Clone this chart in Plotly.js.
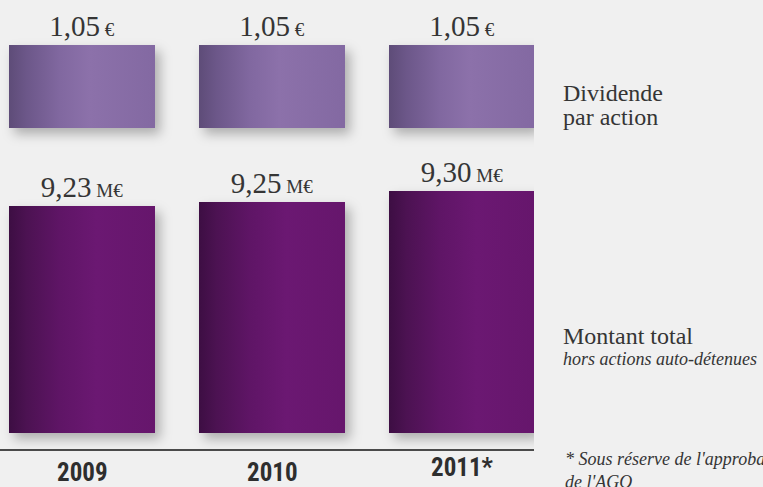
<!DOCTYPE html>
<html>
<head>
<meta charset="utf-8">
<script src="https://cdn.plot.ly/plotly-3.0.1.min.js"></script>
<style>
  html, body { margin: 0; padding: 0; background: #f0f0f0; }
  #chart { width: 763px; height: 487px; }
</style>
</head>
<body>
<div id="chart"></div>
<script>
// ---- data ----
const years = ['2009', '2010', '2011*'];
const dividendPerShare = [1.05, 1.05, 1.05];
const totalAmount = [9.23, 9.25, 9.30];
const dividendUnit = '€';
const totalUnit = 'M€';
const rowLabelTop = ['Dividende', 'par action'];
const rowLabelBottom = ['Montant total', 'hors actions auto-détenues'];
const footnote = ['* Sous réserve de l\'approbation', 'de l\'AGO'];

// ---- layout geometry ----
const W = 763, H = 487;
const PLOT_W = 534, PLOT_H = 449;
const TOTAL_BASE = 8.17;
const fmt = v => v.toFixed(2).replace('.', ',');
const px = p => p / PLOT_W;
const py = p => (PLOT_H - p) / PLOT_H;

const serif = 'Liberation Serif, Times New Roman, serif';
const narrow = 'Liberation Sans Narrow, Arial Narrow, Roboto Condensed, Liberation Sans, sans-serif';
const textCol = '#353535';

const traces = [
  {
    type: 'bar', name: 'total', x: years,
    y: totalAmount.map(v => v - TOTAL_BASE), base: TOTAL_BASE,
    yaxis: 'y', width: 0.7684,
    marker: { color: '#64166b', line: { width: 0 } },
    text: totalAmount.map(v => fmt(v) + '<span style="font-size:19px"> ' + totalUnit + '</span>'),
    textposition: 'outside', cliponaxis: false,
    textfont: { family: serif, size: 29, color: textCol },
    hoverinfo: 'skip'
  },
  {
    type: 'bar', name: 'dividend', x: years, y: dividendPerShare,
    yaxis: 'y2', width: 0.7684,
    marker: { color: '#826a9f', line: { width: 0 } },
    text: dividendPerShare.map(v => fmt(v) + '<span style="font-size:19px"> ' + dividendUnit + '</span>'),
    textposition: 'outside', cliponaxis: false,
    textfont: { family: serif, size: 29, color: textCol },
    hoverinfo: 'skip'
  }
];

const annotations = [];
function addLabel(text, xpx, ypx, size, italic) {
  annotations.push({
    xref: 'paper', yref: 'paper', x: px(xpx), y: py(ypx),
    xanchor: 'left', yanchor: 'middle', showarrow: false,
    text: italic ? '<i>' + text + '</i>' : text,
    font: { family: serif, size: size, color: textCol }
  });
}
addLabel(rowLabelTop[0], 561, 93, 24, false);
addLabel(rowLabelTop[1], 561, 117, 24, false);
addLabel(rowLabelBottom[0], 561, 336, 24, false);
addLabel(rowLabelBottom[1], 561, 359, 18, true);
addLabel(footnote[0], 563, 459, 18, true);
addLabel(footnote[1], 563, 482, 18, true);

years.forEach((y, i) => {
  annotations.push({
    xref: 'x', yref: 'paper', x: i, y: py(y.includes('*') ? 467 : 472),
    xanchor: 'center', yanchor: 'middle', showarrow: false, borderpad: 0,
    text: '<b>' + y + '</b>',
    font: { family: narrow, size: 25, color: '#2e2e2e' }
  });
});

const layout = {
  width: W, height: H,
  margin: { l: 0, r: W - PLOT_W, t: 0, b: H - PLOT_H, pad: 0 },
  paper_bgcolor: '#f0f0f0', plot_bgcolor: '#f0f0f0',
  showlegend: false, bargap: 0,
  xaxis: {
    type: 'category', range: [-0.43158, 2.37895], domain: [0, 1],
    showgrid: false, zeroline: false, showticklabels: false, ticks: '',
    showline: true, linecolor: '#4a4a4a', linewidth: 1.5, fixedrange: true
  },
  yaxis: {
    range: [8.17 - 16 / 214.3, 8.17 + 433 / 214.3],
    showgrid: false, zeroline: false, showticklabels: false, showline: false, fixedrange: true
  },
  yaxis2: {
    overlaying: 'y', anchor: 'x',
    range: [-(PLOT_H - 128) / (83 / 1.05), 128 / (83 / 1.05)],
    showgrid: false, zeroline: false, showticklabels: false, showline: false, fixedrange: true
  },
  annotations: annotations
};

Plotly.newPlot('chart', traces, layout, { staticPlot: true, displayModeBar: false }).then(gd => {
  const svg = gd.querySelector('svg.main-svg');
  const NS = 'http://www.w3.org/2000/svg';
  let defs = svg.querySelector('defs');
  if (!defs) { defs = document.createElementNS(NS, 'defs'); svg.insertBefore(defs, svg.firstChild); }
  function lin(id, stops) {
    const g = document.createElementNS(NS, 'linearGradient');
    g.setAttribute('id', id); g.setAttribute('x1', '0'); g.setAttribute('x2', '1');
    g.setAttribute('y1', '0'); g.setAttribute('y2', '0');
    stops.forEach(s => {
      const st = document.createElementNS(NS, 'stop');
      st.setAttribute('offset', s[0]); st.setAttribute('stop-color', s[1]);
      g.appendChild(st);
    });
    defs.appendChild(g);
  }
  lin('gTotal', [[0, '#3d0e43'], [0.12, '#4c1252'], [0.35, '#5f1566'], [0.6, '#6b1872'], [1, '#66166c']]);
  lin('gDiv', [[0, '#5e4c78'], [0.12, '#6c5789'], [0.35, '#8168a0'], [0.55, '#8c71aa'], [1, '#8369a2']]);
  gd.querySelectorAll('.barlayer .trace').forEach(tr => {
    const d = tr.__data__;
    const name = d && d[0] && d[0].trace ? d[0].trace.name : '';
    tr.querySelectorAll('path').forEach(p => {
      p.style.fill = name === 'total' ? 'url(#gTotal)' : 'url(#gDiv)';
      p.style.filter = 'drop-shadow(5px 6px 6px rgba(0,0,0,0.28))';
    });
  });
});
</script>
</body>
</html>
